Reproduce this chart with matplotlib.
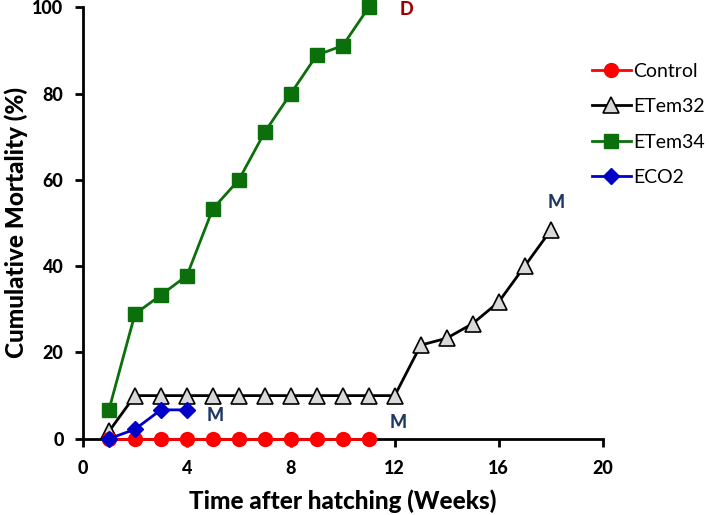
import matplotlib
matplotlib.use("Agg")
import matplotlib.pyplot as plt

plt.rcParams['font.family'] = ['Lato', 'DejaVu Sans']

weeks_control = [1, 2, 3, 4, 5, 6, 7, 8, 9, 10, 11]
control = [0, 0, 0, 0, 0, 0, 0, 0, 0, 0, 0]
weeks_etem32 = list(range(1, 19))
etem32 = [1.7, 10, 10, 10, 10, 10, 10, 10, 10, 10, 10, 10, 21.7, 23.3, 26.7, 31.7, 40, 48.3]
weeks_etem34 = list(range(1, 12))
etem34 = [6.7, 28.9, 33.3, 37.8, 53.3, 60, 71.1, 80, 88.9, 91.1, 100]
weeks_eco2 = [1, 2, 3, 4]
eco2 = [0, 2.2, 6.7, 6.7]

x_ticks = [0, 4, 8, 12, 16, 20]
y_ticks = [0, 20, 40, 60, 80, 100]

fig = plt.figure(figsize=(7.09, 5.15), dpi=100)
ax = fig.add_axes([0.117, 0.148, 0.733, 0.838])

ax.plot(weeks_control, control, color='#ff0000', lw=2, marker='o', ms=10,
        mfc='#ff0000', mec='#ff0000', label='Control', clip_on=False, zorder=5)
ax.plot(weeks_etem32, etem32, color='black', lw=2, marker='^', ms=11,
        mfc='#d9d9d9', mec='black', mew=1.2, label='ETem32', clip_on=False, zorder=3)
ax.plot(weeks_etem34, etem34, color='#0b700b', lw=2, marker='s', ms=10,
        mfc='#0b700b', mec='#0b700b', label='ETem34', clip_on=False, zorder=4)
ax.plot(weeks_eco2, eco2, color='#0000c8', lw=2, marker='D', ms=8,
        mfc='#0000c8', mec='#0000c8', label='ECO2', clip_on=False, zorder=6)

ann_kw = dict(fontsize=13, fontweight='black', ha='center', va='center')
ax.text(12.45, 99.5, 'D', color='#a00000', **ann_kw)
ax.text(5.1, 5.3, 'M', color='#1f3864', **ann_kw)
ax.text(12.15, 3.7, 'M', color='#1f3864', **ann_kw)
ax.text(18.2, 54.7, 'M', color='#1f3864', **ann_kw)

ax.set_xlim(0, 20)
ax.set_ylim(0, 100)
ax.set_xticks(x_ticks)
ax.set_yticks(y_ticks)
for s in ['top', 'right']:
    ax.spines[s].set_visible(False)
for s in ['left', 'bottom']:
    ax.spines[s].set_linewidth(2)
ax.tick_params(axis='both', direction='out', length=6, width=2, labelsize=13)
ax.tick_params(axis='x', pad=9)
ax.tick_params(axis='y', pad=8)
for lab in ax.get_xticklabels() + ax.get_yticklabels():
    lab.set_fontweight('black')

ax.set_xlabel('Time after hatching (Weeks)', fontsize=17.5, fontweight='black', labelpad=9)
ax.set_ylabel('Cumulative Mortality (%)', fontsize=17.5, fontweight='black', labelpad=3)

leg = fig.legend(loc='upper left', bbox_to_anchor=(0.81, 0.912), frameon=False,
                 fontsize=14, handlelength=2.0, labelspacing=0.95, handletextpad=0.15)

fig.savefig('out.png', dpi=100)
